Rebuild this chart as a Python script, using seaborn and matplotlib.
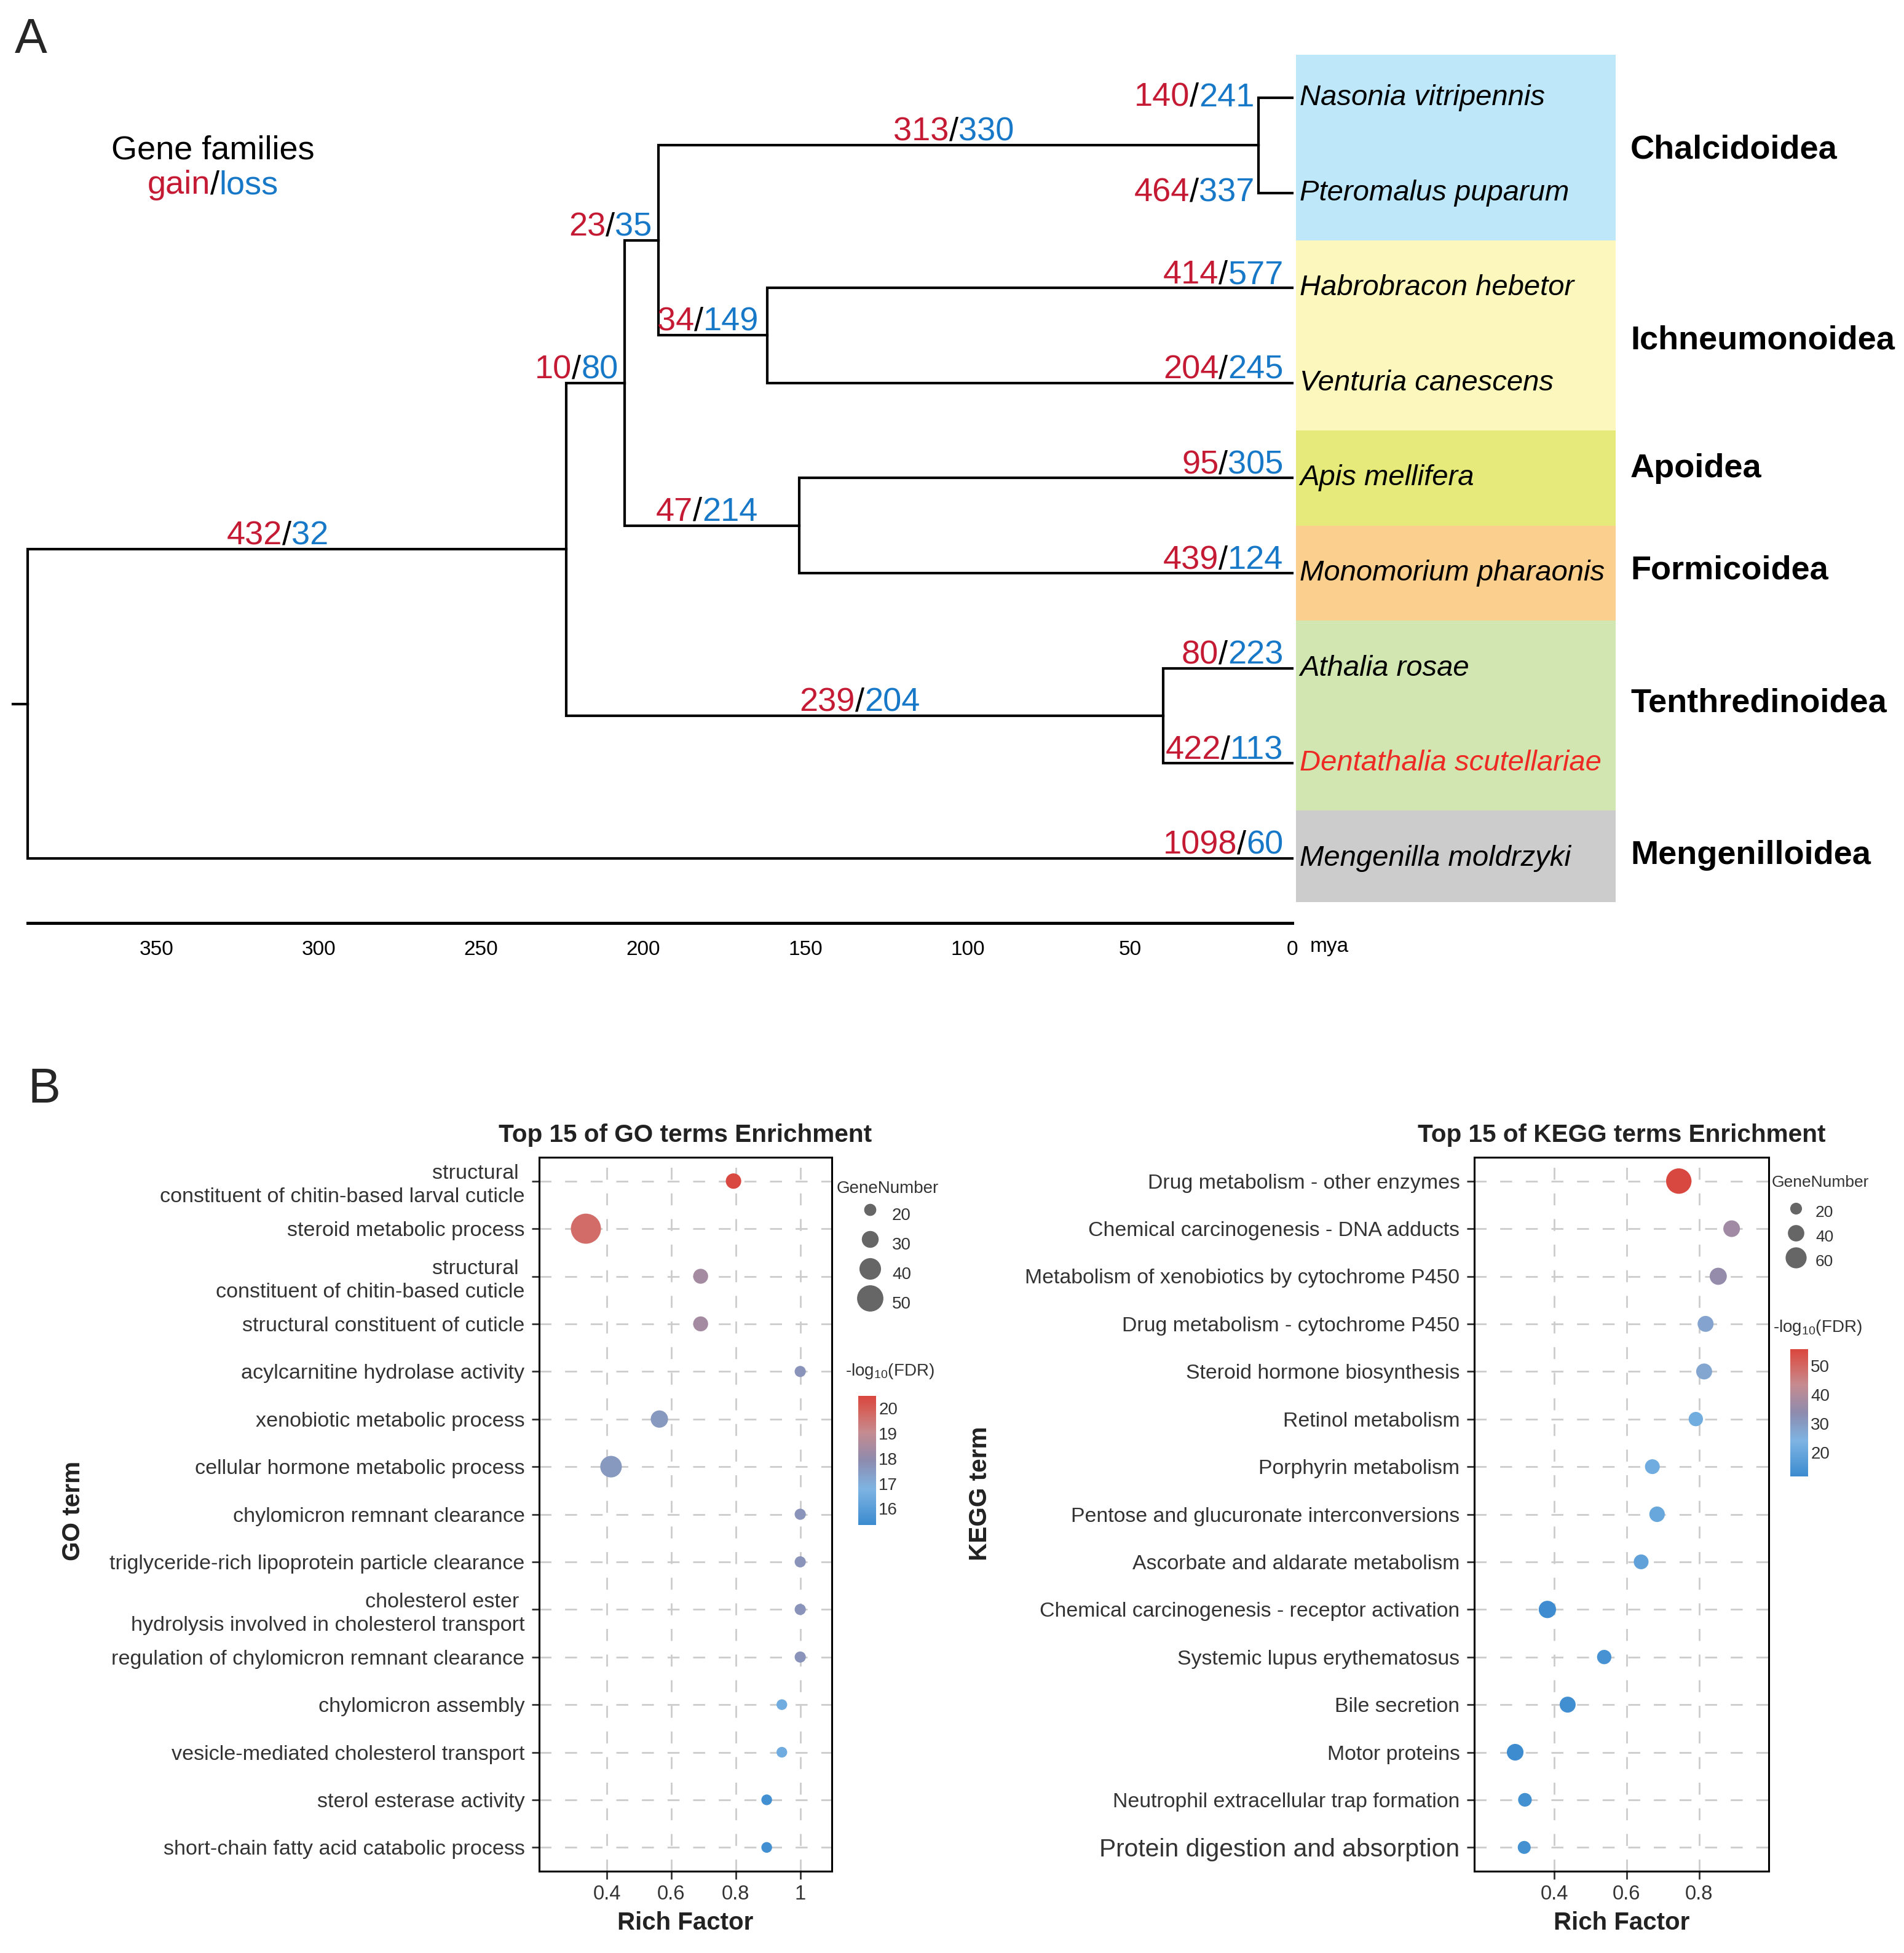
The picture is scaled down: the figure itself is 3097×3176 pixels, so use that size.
import numpy as np
import pandas as pd
import matplotlib
matplotlib.use("Agg")
import matplotlib.pyplot as plt
import seaborn as sns
from matplotlib.colors import LinearSegmentedColormap, Normalize
from matplotlib.cm import ScalarMappable
from matplotlib.lines import Line2D
from matplotlib.patches import Rectangle
from matplotlib.transforms import offset_copy
from matplotlib.font_manager import FontProperties

### DATA - panel A (tree, gene family gain/loss)

tips = ["Nasonia vitripennis", "Pteromalus puparum", "Habrobracon hebetor",
        "Venturia canescens", "Apis mellifera", "Monomorium pharaonis",
        "Athalia rosae", "Dentathalia scutellariae", "Mengenilla moldrzyki"]
tip_group = ["Chalcidoidea", "Chalcidoidea", "Ichneumonoidea", "Ichneumonoidea",
             "Apoidea", "Formicoidea", "Tenthredinoidea", "Tenthredinoidea",
             "Mengenilloidea"]
groups = ["Chalcidoidea", "Ichneumonoidea", "Apoidea", "Formicoidea",
          "Tenthredinoidea", "Mengenilloidea"]
group_color = ["#BEE8F9", "#FCF8BD", "#E6EA7A", "#FBD08E", "#D1E6B1", "#CCCCCC"]

nodes = ["root", "n1", "n2", "n3", "n4", "n5", "n6", "n7"]
node_age = [389.7, 223.8, 205.7, 195.3, 10.4, 161.7, 152.0, 39.7]

br_child = ["n1", "Mengenilla moldrzyki", "n2", "n7", "n3", "n6", "n4", "n5",
            "Nasonia vitripennis", "Pteromalus puparum", "Habrobracon hebetor",
            "Venturia canescens", "Apis mellifera", "Monomorium pharaonis",
            "Athalia rosae", "Dentathalia scutellariae"]
br_parent = ["root", "root", "n1", "n1", "n2", "n2", "n3", "n3",
             "n4", "n4", "n5", "n5", "n6", "n6", "n7", "n7"]
br_gain = [432, 1098, 10, 239, 23, 47, 313, 34, 140, 464, 414, 204, 95, 439, 80, 422]
br_loss = [32, 60, 80, 204, 35, 214, 330, 149, 241, 337, 577, 245, 305, 124, 223, 113]

time_ticks = [350, 300, 250, 200, 150, 100, 50, 0]

### DATA - panel B (enrichment)

go_terms = ["structural \nconstituent of chitin-based larval cuticle",
            "steroid metabolic process",
            "structural \nconstituent of chitin-based cuticle",
            "structural constituent of cuticle",
            "acylcarnitine hydrolase activity",
            "xenobiotic metabolic process",
            "cellular hormone metabolic process",
            "chylomicron remnant clearance",
            "triglyceride-rich lipoprotein particle clearance",
            "cholesterol ester \nhydrolysis involved in cholesterol transport",
            "regulation of chylomicron remnant clearance",
            "chylomicron assembly",
            "vesicle-mediated cholesterol transport",
            "sterol esterase activity",
            "short-chain fatty acid catabolic process"]
go_rich = [0.793, 0.335, 0.691, 0.691, 1.0, 0.563, 0.413, 1.0, 1.0, 1.0, 1.0,
           0.943, 0.943, 0.896, 0.896]
go_genes = [27, 58, 26, 26, 18, 31, 40, 18, 18, 18, 18, 17, 17, 17, 17]
go_fdr = [20.45, 19.7, 18.4, 18.4, 17.7, 17.55, 17.55, 17.7, 17.7, 17.7, 17.7,
          16.5, 16.5, 15.5, 15.5]

kegg_terms = ["Drug metabolism - other enzymes",
              "Chemical carcinogenesis - DNA adducts",
              "Metabolism of xenobiotics by cytochrome P450",
              "Drug metabolism - cytochrome P450",
              "Steroid hormone biosynthesis",
              "Retinol metabolism",
              "Porphyrin metabolism",
              "Pentose and glucuronate interconversions",
              "Ascorbate and aldarate metabolism",
              "Chemical carcinogenesis - receptor activation",
              "Systemic lupus erythematosus",
              "Bile secretion",
              "Motor proteins",
              "Neutrophil extracellular trap formation",
              "Protein digestion and absorption"]
kegg_rich = [0.744, 0.890, 0.853, 0.818, 0.814, 0.791, 0.671, 0.684, 0.640,
             0.381, 0.538, 0.437, 0.292, 0.319, 0.317]
kegg_genes = [79, 41, 43, 38, 38, 31, 33, 36, 33, 44, 31, 38, 41, 28, 25]
kegg_fdr = [55.5, 37, 35, 28, 27.5, 22, 21.5, 20, 18.5, 12.5, 14, 12.8, 12, 13.5, 13.5]

### STYLE

DPI = 200
W, H = 3097, 3176
RED = "#C51A33"
BLUE = "#1878C8"
TXT = "#333333"
group_label_dy = [0.05, 0.05, -0.1, -0.03, -0.13, -0.03]   # hand placement of superfamily names

sns.set_style("white")
plt.rcParams["font.family"] = ["Liberation Sans", "DejaVu Sans"]
plt.rcParams["mathtext.default"] = "regular"

fig = plt.figure(figsize=(W / DPI, H / DPI), dpi=DPI)
renderer = fig.canvas.get_renderer()


def fx(px):
    return px / W


def fy(py):
    return 1 - py / H


def colored_pair(ax, x, y, parts, fp, ha):
    widths = [renderer.get_text_width_height_descent(s, fp, ismath=False)[0] for s, _ in parts]
    total = sum(widths)
    off = -total if ha == "right" else (-total / 2 if ha == "center" else 0)
    for (s, c), w in zip(parts, widths):
        ax.text(x, y, s, color=c, fontproperties=fp, ha="left", va="baseline",
                transform=offset_copy(ax.transData, fig=fig, x=off, y=0, units="dots"))
        off += w


### PANEL A - tree

axA = fig.add_axes([0, fy(1630), 1, 1630 / H])
axA.patch.set_alpha(0)
axA.set_xlim(398.2, -188.5)
axA.set_ylim(9.515, -1.028)

age = dict(zip(nodes, node_age))
for t in tips:
    age[t] = 0.0
ypos = {t: float(i) for i, t in enumerate(tips)}
children = {}
for c, p in zip(br_child, br_parent):
    children.setdefault(p, []).append(c)


def get_y(n):
    if n not in ypos:
        ypos[n] = np.mean([get_y(c) for c in children[n]])
    return ypos[n]


get_y("root")

line_kw = dict(color="black", lw=1.5, solid_joinstyle="miter", solid_capstyle="projecting")
for c, p in zip(br_child, br_parent):
    axA.plot([age[p], age[p], age[c]], [ypos[p], ypos[c], ypos[c]], **line_kw)
axA.plot([age["root"] + 4.6, age["root"]], [ypos["root"], ypos["root"]], **line_kw)

# coloured boxes per superfamily
for g, col, dy in zip(groups, group_color, group_label_dy):
    rows = [i for i, t in enumerate(tips) if tip_group[i] == g]
    top = min(rows) - 0.5 + (0.05 if min(rows) == 0 else 0)
    bot = max(rows) + 0.5 - (0.04 if max(rows) == len(tips) - 1 else 0)
    axA.add_patch(Rectangle((-1.16, top), -98.4, bot - top, color=col, lw=0, zorder=0))
    axA.text(-104.2, np.mean(rows) + dy, g, ha="left", va="center", fontsize=19.5,
             fontweight="bold", color="black")

for i, t in enumerate(tips):
    axA.text(-2.3, i, t, ha="left", va="center", fontsize=17, style="italic",
             color="#EE2A24" if t.startswith("Dentathalia") else "black")

num_fp = FontProperties(family=["Liberation Sans", "DejaVu Sans"], size=19.5)
for c, p, g, l in zip(br_child, br_parent, br_gain, br_loss):
    parts = [(str(g), RED), ("/", "black"), (str(l), BLUE)]
    x0, x1, y = age[p], age[c], ypos[c]
    if c in tips and x0 < 20:
        colored_pair(axA, x0 + 1.2, y + 0.09, parts, num_fp, "right")
    elif c in tips:
        colored_pair(axA, 2.7, y - 0.045, parts, num_fp, "right")
    elif x0 - x1 < 25:
        colored_pair(axA, x1 + 2.0, y - 0.05, parts, num_fp, "right")
    else:
        shift = 6.0 if p == "root" else 1.5
        colored_pair(axA, (x0 + x1) / 2 + shift, y - 0.05, parts, num_fp, "center")

axA.text(332.6, 0.646, "Gene families", ha="center", va="baseline", fontsize=19.5, color="black")
colored_pair(axA, 332.6, 1.01, [("gain", RED), ("/", "black"), ("loss", BLUE)], num_fp, "center")

# time scale
for s in ["top", "left", "right"]:
    axA.spines[s].set_visible(False)
axA.spines["bottom"].set_position(("data", 8.68))
axA.spines["bottom"].set_bounds(0, age["root"])
axA.spines["bottom"].set_linewidth(1.8)
axA.spines["bottom"].set_color("black")
axA.set_xticks(time_ticks)
axA.set_xticklabels([str(v) for v in time_ticks])
axA.set_yticks([])
axA.tick_params(axis="x", length=6, width=1.1, pad=4, labelsize=12, colors="black")
axA.text(-5.4, 8.93, "mya", ha="left", va="center", fontsize=12, color="black")

fig.text(fx(24), fy(86), "A", fontsize=28.5, va="baseline", ha="left")
fig.text(fx(45), fy(1793), "B", fontsize=28.5, va="baseline", ha="left")

### PANEL B - enrichment dot plots

cmap = LinearSegmentedColormap.from_list(
    "fdr", [(0, "#3B8BCF"), (0.28, "#7EB4E3"), (0.5, "#8D8BAE"),
            (0.72, "#C68B90"), (0.88, "#D4645E"), (1, "#D9473F")])


def dot_panel(rect, terms, rich, genes, fdr, vlim, diam, xlim, xticks, xticklabels,
              title, ylab, ylab_xy, ysize):
    ax = fig.add_axes(rect)
    df = pd.DataFrame({"term": terms, "rich": rich, "genes": genes, "fdr": fdr})
    sizes = {n: (diam(n) * 72 / DPI) ** 2 for n in sorted(set(genes))}
    sns.scatterplot(data=df, x="rich", y="term", size="genes", sizes=sizes,
                    hue="fdr", palette=cmap, hue_norm=vlim, legend=False,
                    linewidth=0, ax=ax, zorder=3)
    ax.set_xlim(*xlim)
    ax.set_ylim(len(terms) - 0.5, -0.5)
    ax.set_xticks(xticks)
    ax.set_xticklabels(xticklabels)
    ax.grid(True, color="#CCCCCC", lw=1.0, ls=(0, (7, 8)))
    ax.set_axisbelow(True)
    for s in ax.spines.values():
        s.set_color("black")
        s.set_linewidth(1.1)
    ax.tick_params(axis="y", length=4.5, width=1.0, pad=4, labelsize=ysize,
                   colors=TXT, left=True)
    ax.tick_params(axis="x", length=4.5, width=1.0, pad=3.5, labelsize=11.8,
                   colors=TXT, bottom=True)
    for lbl in ax.get_yticklabels():
        lbl.set_linespacing(1.3)
    ax.set_title(title, fontsize=14.6, fontweight="bold", color="#222222", pad=9)
    ax.set_xlabel("Rich Factor", fontsize=14.5, fontweight="bold", color="#222222", va="top")
    ax.xaxis.set_label_coords(0.5, -0.056)
    ax.set_ylabel(ylab, fontsize=14.6, fontweight="bold", color="#222222")
    ax.yaxis.set_label_coords(*ylab_xy)
    return ax


go_diam = lambda n: 19.7 + 0.77 * (n - 20)
kegg_diam = lambda n: 19.2 + 0.375 * (n - 20)

go_vlim = (15.35, 20.5)
kegg_vlim = (11.7, 55.7)

axG = dot_panel([fx(877), fy(3043), 476 / W, 1161 / H], go_terms, go_rich, go_genes,
                go_fdr, go_vlim, go_diam, (0.19, 1.098), [0.4, 0.6, 0.8, 1.0],
                ["0.4", "0.6", "0.8", "1"], "Top 15 of GO terms Enrichment",
                "GO term", (-1.553, 0.505), 12.3)
axK = dot_panel([fx(2398), fy(3043), 479 / W, 1161 / H], kegg_terms, kegg_rich,
                kegg_genes, kegg_fdr, kegg_vlim, kegg_diam, (0.179, 0.9925),
                [0.4, 0.6, 0.8], ["0.4", "0.6", "0.8"],
                "Top 15 of KEGG terms Enrichment", "KEGG term", (-1.639, 0.529), 12.2)
axK.get_yticklabels()[-1].set_fontsize(14.7)


def size_legend(breaks, diam, title_xy, anchor, fs, hh, pad):
    fig.text(fx(title_xy[0]), fy(title_xy[1]), "GeneNumber", fontsize=fs,
             color=TXT, ha="left", va="center")
    handles = [Line2D([], [], ls="", marker="o", color="#666666", mew=0,
                      markersize=diam(b) * 72 / DPI) for b in breaks]
    fig.legend(handles, [str(b) for b in breaks], loc="upper left",
               bbox_to_anchor=(fx(anchor[0]), fy(anchor[1])), frameon=False,
               fontsize=fs, labelcolor=TXT, handlelength=2, handletextpad=pad,
               handleheight=hh, labelspacing=0, borderpad=0, borderaxespad=0,
               numpoints=1)


def color_bar(vlim, ticks, title_xy, rect):
    fig.text(fx(title_xy[0]), fy(title_xy[1]), "-log$_{10}$(FDR)", fontsize=10,
             color=TXT, ha="left", va="center")
    cax = fig.add_axes(rect)
    sm = ScalarMappable(norm=Normalize(*vlim), cmap=cmap)
    cb = fig.colorbar(sm, cax=cax, ticks=ticks)
    cb.outline.set_visible(False)
    cax.tick_params(axis="y", direction="in", color="white", length=2.5, width=1.0,
                    left=True, right=True, labelsize=10, labelcolor=TXT, pad=1.5)


size_legend([20, 30, 40, 50], go_diam, (1361, 1933), (1387, 1951), 10, 2.28, 0.3)
color_bar(go_vlim, [16, 17, 18, 19, 20], (1375, 2230),
          [fx(1396), fy(2480), 29 / W, 210 / H])

size_legend([20, 40, 60], kegg_diam, (2882, 1923), (2895, 1951), 9.5, 1.95, 0.2)
color_bar(kegg_vlim, [20, 30, 40, 50], (2884, 2159),
          [fx(2912), fy(2401), 29 / W, 207 / H])

fig.savefig("out.png", dpi=DPI)
